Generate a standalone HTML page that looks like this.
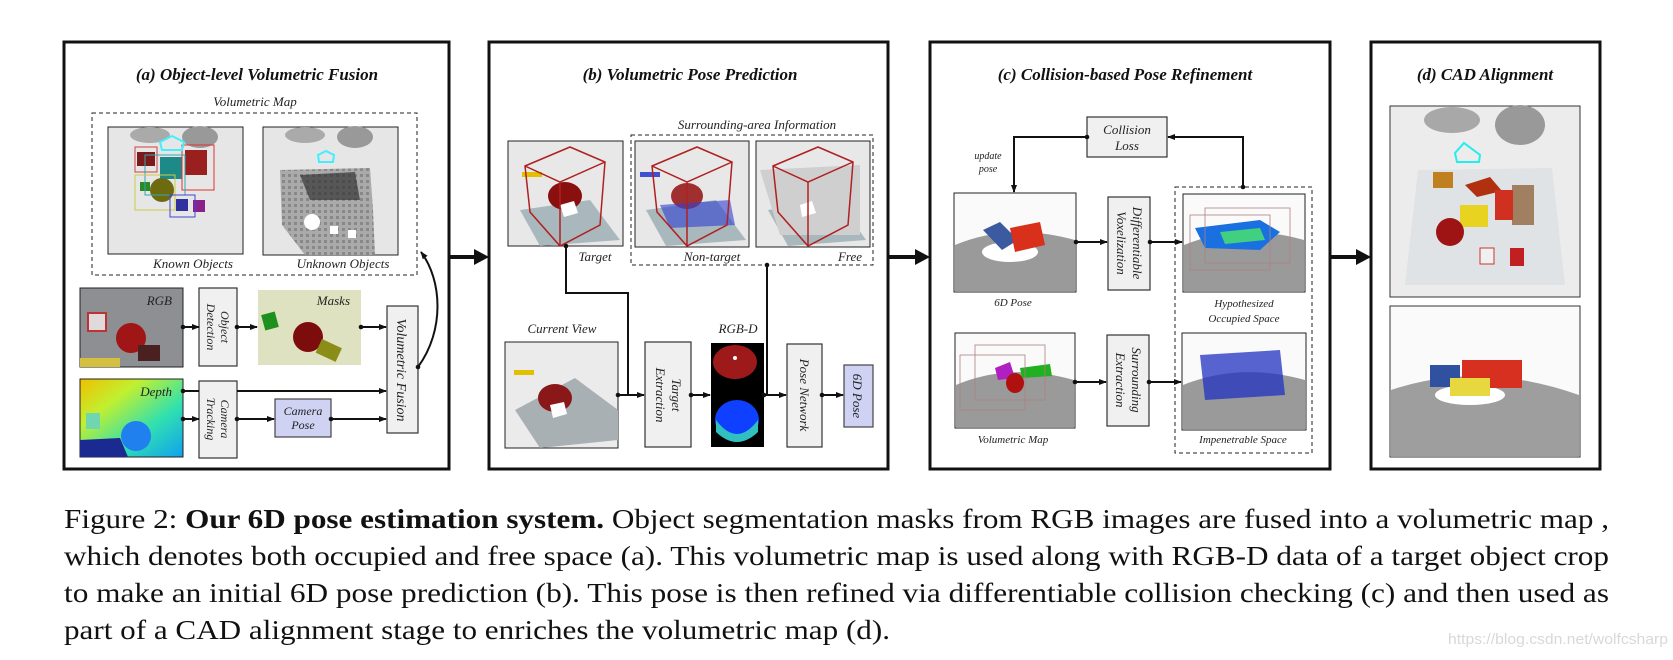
<!DOCTYPE html>
<html><head><meta charset="utf-8"><style>
html,body{margin:0;padding:0;background:#fff;}
svg{display:block;}
.t{font-family:"Liberation Serif",serif;font-style:italic;fill:#222;}
.h{font-family:"Liberation Serif",serif;font-style:italic;font-weight:bold;font-size:17px;fill:#111;}
.bx{fill:#f0f0f0;stroke:#333;stroke-width:1.2;}
.ln{stroke:#111;stroke-width:2;fill:none;}
.cap{font-family:"Liberation Serif",serif;font-size:27px;fill:#111;}
</style></head><body>
<svg width="1673" height="660" viewBox="0 0 1673 660" xmlns="http://www.w3.org/2000/svg">
<defs>
<marker id="a" markerWidth="8" markerHeight="8" refX="7" refY="4" orient="auto" markerUnits="userSpaceOnUse"><path d="M0,1 L8,4 L0,7 z" fill="#111"/></marker>
<marker id="d" markerWidth="6" markerHeight="6" refX="3" refY="3" markerUnits="userSpaceOnUse"><circle cx="3" cy="3" r="2.3" fill="#111"/></marker>
<pattern id="grey" width="6" height="6" patternUnits="userSpaceOnUse"><rect width="6" height="6" fill="#aaa"/><rect width="3" height="3" fill="#888"/></pattern>
</defs>

<!-- panel borders -->
<g fill="none" stroke="#111" stroke-width="3">
<rect x="64" y="42" width="385" height="427"/>
<rect x="489" y="42" width="399" height="427"/>
<rect x="930" y="42" width="400" height="427"/>
<rect x="1371" y="42" width="229" height="427"/>
</g>
<!-- inter-panel arrows -->
<g fill="#111">
<rect x="449" y="255" width="26" height="4"/><path d="M474,249 L489,257 L474,265z"/>
<rect x="888" y="255" width="28" height="4"/><path d="M915,249 L930,257 L915,265z"/>
<rect x="1330" y="255" width="27" height="4"/><path d="M1356,249 L1371,257 L1356,265z"/>
</g>

<!-- ========== (a) ========== -->
<text class="h" x="257" y="80" text-anchor="middle">(a) Object-level Volumetric Fusion</text>
<text class="t" x="255" y="106" font-size="13" text-anchor="middle">Volumetric Map</text>
<rect x="92" y="113" width="325" height="162" fill="none" stroke="#222" stroke-dasharray="4,3"/>
<!-- known objects img -->
<rect x="108" y="127" width="135" height="127" fill="#e6e6e6" stroke="#222"/>
<ellipse cx="150" cy="135" rx="20" ry="8" fill="#aaa"/><ellipse cx="200" cy="137" rx="18" ry="11" fill="#999"/>
<rect x="137" y="152" width="18" height="14" fill="#7a1a1a"/><rect x="160" y="157" width="22" height="22" fill="#1e8a88"/>
<rect x="185" y="150" width="22" height="25" fill="#9a1f1f"/><circle cx="162" cy="190" r="12" fill="#6e6a10"/>
<rect x="140" y="182" width="10" height="9" fill="#2a8a2a"/><rect x="176" y="199" width="12" height="12" fill="#3030a0"/><rect x="193" y="200" width="12" height="12" fill="#8a208a"/>
<g fill="none" stroke-width="1"><rect x="135" y="147" width="22" height="25" stroke="#c44"/><rect x="182" y="145" width="32" height="45" stroke="#d33"/><rect x="145" y="155" width="40" height="40" stroke="#3aa"/><rect x="135" y="175" width="40" height="35" stroke="#cc4"/><rect x="170" y="195" width="25" height="22" stroke="#44c"/></g>
<path d="M160,142 l12,-6 l12,6 l-2,8 l-20,0z" fill="none" stroke="#4ef" stroke-width="2"/>
<!-- unknown img -->
<rect x="263" y="127" width="135" height="128" fill="#e6e6e6" stroke="#222"/>
<ellipse cx="305" cy="135" rx="20" ry="8" fill="#aaa"/><ellipse cx="355" cy="137" rx="18" ry="11" fill="#999"/>
<path d="M280,170 L370,168 L373,210 L375,255 L305,255 L282,225z" fill="url(#grey)"/>
<path d="M300,175 L355,172 L360,200 L310,200z" fill="#333" opacity=".7"/>
<circle cx="312" cy="222" r="8" fill="#fff"/><rect x="330" y="226" width="8" height="8" fill="#fff"/><rect x="348" y="230" width="8" height="8" fill="#fff"/>
<path d="M318,155 l8,-4 l8,4 l-1,7 l-14,0z" fill="none" stroke="#4ef" stroke-width="2"/>
<text class="t" x="193" y="268" font-size="13" text-anchor="middle">Known Objects</text>
<text class="t" x="343" y="268" font-size="13" text-anchor="middle">Unknown Objects</text>
<!-- RGB -->
<rect x="80" y="288" width="103" height="79" fill="#8d8f92" stroke="#222"/>
<rect x="88" y="313" width="18" height="18" fill="#e0dada" stroke="#b33" stroke-width="2"/>
<circle cx="131" cy="338" r="15" fill="#a01515"/><rect x="138" y="345" width="22" height="16" fill="#4a2020"/><rect x="80" y="358" width="40" height="9" fill="#d4c040"/>
<text class="t" x="172" y="305" font-size="13" text-anchor="end">RGB</text>
<rect class="bx" x="199" y="288" width="38" height="78"/>
<text class="t" font-size="12" transform="translate(218,327) rotate(90)" text-anchor="middle"><tspan x="0" y="-3">Object</tspan><tspan x="0" y="11">Detection</tspan></text>
<!-- Masks -->
<rect x="258" y="290" width="103" height="75" fill="#dfe2c0"/>
<rect x="263" y="313" width="14" height="16" fill="#1e901e" transform="rotate(-15 270 321)"/>
<circle cx="308" cy="337" r="15" fill="#7d0d0d"/><rect x="318" y="343" width="22" height="15" fill="#8c8c18" transform="rotate(25 329 350)"/>
<text class="t" x="350" y="305" font-size="13" text-anchor="end">Masks</text>
<rect class="bx" x="387" y="306" width="31" height="127"/>
<text class="t" font-size="14" transform="translate(402,370) rotate(90)" text-anchor="middle" y="5">Volumetric Fusion</text>
<!-- Depth -->
<defs><linearGradient id="dg" x1="0" y1="0" x2="1" y2="1"><stop offset="0" stop-color="#f0c000"/><stop offset=".3" stop-color="#c0f030"/><stop offset=".65" stop-color="#30e0b0"/><stop offset="1" stop-color="#10a0f0"/></linearGradient></defs>
<rect x="80" y="379" width="103" height="78" fill="url(#dg)" stroke="#222"/>
<rect x="86" y="413" width="14" height="16" fill="#6fd6b0"/><circle cx="136" cy="436" r="15" fill="#2080ee"/><path d="M80,440 L120,438 L128,457 L80,457z" fill="#1a2a90"/>
<text class="t" x="172" y="396" font-size="13" text-anchor="end">Depth</text>
<rect class="bx" x="199" y="381" width="38" height="77"/>
<text class="t" font-size="12" transform="translate(218,419) rotate(90)" text-anchor="middle"><tspan x="0" y="-3">Camera</tspan><tspan x="0" y="11">Tracking</tspan></text>
<rect x="275" y="399" width="56" height="38" fill="#cfd2f2" stroke="#444" stroke-width="1.2"/>
<text class="t" x="303" y="415" font-size="12" text-anchor="middle">Camera</text><text class="t" x="303" y="429" font-size="12" text-anchor="middle">Pose</text>
<g class="ln" marker-start="url(#d)" marker-end="url(#a)">
<line x1="183" y1="327" x2="199" y2="327"/><line x1="237" y1="327" x2="257" y2="327"/><line x1="361" y1="327" x2="386" y2="327"/>
<line x1="183" y1="419" x2="199" y2="419"/><line x1="237" y1="419" x2="274" y2="419"/><line x1="331" y1="419" x2="386" y2="419"/>
</g>
<line class="ln" x1="183" y1="391" x2="199" y2="391" marker-start="url(#d)"/>
<line class="ln" x1="237" y1="391" x2="386" y2="391" marker-end="url(#a)"/>
<path class="ln" d="M418,367 C445,330 442,280 421,252" marker-start="url(#d)" marker-end="url(#a)"/>

<!-- ========== (b) ========== -->
<text class="h" x="690" y="80" text-anchor="middle">(b) Volumetric Pose Prediction</text>
<text class="t" x="757" y="129" font-size="13" text-anchor="middle">Surrounding-area Information</text>
<rect x="631" y="135" width="242" height="130" fill="none" stroke="#222" stroke-dasharray="4,3"/>
<g stroke="#222">
<rect x="508" y="141" width="115" height="105" fill="#e8e8e8"/>
<rect x="635" y="141" width="114" height="106" fill="#e8e8e8"/>
<rect x="756" y="141" width="114" height="106" fill="#e8e8e8"/>
</g>
<path d="M520,210 L590,200 L620,240 L540,246z" fill="#a8b8bc"/><path d="M646,210 L716,200 L746,240 L666,246z" fill="#a8b8bc"/><path d="M768,210 L838,200 L866,240 L788,246z" fill="#a8b8bc"/>
<ellipse cx="565" cy="196" rx="17" ry="14" fill="#8a1010"/><path d="M560,205 l14,-4 l4,12 l-14,4z" fill="#fff"/>
<ellipse cx="687" cy="196" rx="16" ry="13" fill="#a03030"/><path d="M660,205 L730,200 L735,225 L670,228z" fill="#3040d0" opacity=".6"/><rect x="640" y="172" width="20" height="5" fill="#4050d0"/>
<path d="M760,170 L860,165 L860,235 L780,235z" fill="#cfcfcf"/><path d="M800,205 l12,-4 l4,12 l-14,4z" fill="#fff"/>
<rect x="522" y="172" width="20" height="5" fill="#e0c000"/>
<g fill="none" stroke="#b02020" stroke-width="1.5">
<path d="M525,166 L570,147 L605,162 L600,225 L560,246 L530,212z M525,166 L560,182 L605,162 M560,182 L560,246"/>
<path d="M652,166 L697,147 L732,162 L727,225 L687,246 L657,212z M652,166 L687,182 L732,162 M687,182 L687,246"/>
<path d="M773,166 L818,147 L853,162 L848,225 L808,246 L778,212z M773,166 L808,182 L853,162 M808,182 L808,246"/>
</g>
<text class="t" x="595" y="261" font-size="13" text-anchor="middle">Target</text>
<text class="t" x="712" y="261" font-size="13" text-anchor="middle">Non-target</text>
<text class="t" x="862" y="261" font-size="13" text-anchor="end">Free</text>
<text class="t" x="562" y="333" font-size="13" text-anchor="middle">Current View</text>
<rect x="505" y="342" width="113" height="106" fill="#ebebeb" stroke="#222"/>
<path d="M515,410 L575,378 L618,410 L618,440 L540,448z" fill="#a8b0b4"/>
<ellipse cx="555" cy="398" rx="17" ry="14" fill="#8a1818"/><path d="M550,405 l14,-3 l3,12 l-14,4z" fill="#fff"/><rect x="514" y="370" width="20" height="5" fill="#e0c000"/>
<rect class="bx" x="645" y="342" width="46" height="105"/>
<text class="t" font-size="13" transform="translate(668,395) rotate(90)" text-anchor="middle"><tspan x="0" y="-4">Target</tspan><tspan x="0" y="12">Extraction</tspan></text>
<text class="t" x="738" y="333" font-size="13" text-anchor="middle">RGB-D</text>
<rect x="711" y="343" width="53" height="104" fill="#000"/>
<ellipse cx="735" cy="362" rx="22" ry="17" fill="#9e1a1a"/><circle cx="735" cy="358" r="2" fill="#fff"/>
<ellipse cx="737" cy="420" rx="22" ry="20" fill="#1040ff"/><path d="M716,420 Q737,448 758,420 L758,432 Q737,452 716,432z" fill="#30c0c0"/>
<rect class="bx" x="787" y="344" width="35" height="103"/>
<text class="t" font-size="13" transform="translate(805,395) rotate(90)" text-anchor="middle" y="5">Pose Network</text>
<rect x="844" y="365" width="29" height="62" fill="#cfd2f2" stroke="#444" stroke-width="1.2"/>
<text class="t" font-size="13" transform="translate(858,396) rotate(90)" text-anchor="middle" y="5">6D Pose</text>
<path class="ln" d="M566,246 L566,293 L628,293 L628,395" marker-start="url(#d)"/>
<path class="ln" d="M767,265 L767,395" marker-start="url(#d)"/>
<g class="ln" marker-start="url(#d)" marker-end="url(#a)">
<line x1="618" y1="395" x2="644" y2="395"/><line x1="691" y1="395" x2="710" y2="395"/><line x1="764" y1="395" x2="786" y2="395"/><line x1="822" y1="395" x2="843" y2="395"/>
</g>

<!-- ========== (c) ========== -->
<text class="h" x="1125" y="80" text-anchor="middle">(c) Collision-based Pose Refinement</text>
<rect class="bx" x="1087" y="117" width="80" height="40"/>
<text class="t" x="1127" y="134" font-size="13" text-anchor="middle">Collision</text><text class="t" x="1127" y="150" font-size="13" text-anchor="middle">Loss</text>
<path class="ln" d="M1087,137 L1014,137 L1014,192" marker-start="url(#d)" marker-end="url(#a)"/>
<path class="ln" d="M1243,187 L1243,137 L1168,137" marker-start="url(#d)" marker-end="url(#a)"/>
<text class="t" x="988" y="159" font-size="10" text-anchor="middle">update</text><text class="t" x="988" y="172" font-size="10" text-anchor="middle">pose</text>
<rect x="1175" y="187" width="137" height="266" fill="none" stroke="#222" stroke-dasharray="4,3"/>
<g stroke="#222">
<rect x="954" y="193" width="122" height="99" fill="#fafafa"/>
<rect x="1183" y="194" width="122" height="98" fill="#fafafa"/>
<rect x="955" y="333" width="120" height="95" fill="#fafafa"/>
<rect x="1182" y="333" width="124" height="97" fill="#fafafa"/>
</g>
<g fill="#9a9a9a">
<path d="M955,245 Q1010,222 1075,240 L1075,291 L955,291z"/><path d="M1184,245 Q1240,222 1304,240 L1304,291 L1184,291z"/>
<path d="M956,385 Q1010,362 1074,380 L1074,427 L956,427z"/><path d="M1183,385 Q1240,362 1305,380 L1305,429 L1183,429z"/>
</g>
<ellipse cx="1010" cy="252" rx="28" ry="10" fill="#fff"/>
<path d="M983,230 L1000,222 L1018,240 L1002,250z" fill="#3b5aa0"/><path d="M1010,228 L1040,222 L1045,245 L1015,252z" fill="#d8301a"/>
<path d="M1195,228 L1260,220 L1280,232 L1260,250 L1205,248z" fill="#1a70e0"/><path d="M1220,232 L1260,228 L1265,240 L1225,244z" fill="#40d080"/>
<path d="M995,368 L1010,362 L1015,378 L998,380z" fill="#b020c0"/><ellipse cx="1015" cy="383" rx="9" ry="10" fill="#b01010"/><path d="M1020,368 L1050,364 L1052,376 L1022,378z" fill="#20b020"/>
<path d="M1200,355 L1280,350 L1285,395 L1205,400z" fill="#2030c0" opacity=".75"/>
<g fill="none" stroke="#b08080" stroke-width=".8"><rect x="1190" y="215" width="80" height="55"/><rect x="1205" y="208" width="85" height="55"/><rect x="960" y="355" width="65" height="55"/><rect x="975" y="345" width="70" height="55"/></g>
<text class="t" x="1013" y="306" font-size="11" text-anchor="middle">6D Pose</text>
<text class="t" x="1244" y="307" font-size="11" text-anchor="middle">Hypothesized</text><text class="t" x="1244" y="322" font-size="11" text-anchor="middle">Occupied Space</text>
<text class="t" x="1013" y="443" font-size="11" text-anchor="middle">Volumetric Map</text>
<text class="t" x="1243" y="443" font-size="11" text-anchor="middle">Impenetrable Space</text>
<rect class="bx" x="1108" y="197" width="42" height="93"/>
<text class="t" font-size="13" transform="translate(1129,243) rotate(90)" text-anchor="middle"><tspan x="0" y="-4">Differentiable</tspan><tspan x="0" y="12">Voxelization</tspan></text>
<rect class="bx" x="1107" y="335" width="42" height="91"/>
<text class="t" font-size="13" transform="translate(1128,380) rotate(90)" text-anchor="middle"><tspan x="0" y="-4">Surrounding</tspan><tspan x="0" y="12">Extraction</tspan></text>
<g class="ln" marker-start="url(#d)" marker-end="url(#a)">
<line x1="1076" y1="242" x2="1107" y2="242"/><line x1="1150" y1="242" x2="1182" y2="242"/>
<line x1="1075" y1="382" x2="1106" y2="382"/><line x1="1149" y1="382" x2="1181" y2="382"/>
</g>

<!-- ========== (d) ========== -->
<text class="h" x="1485" y="80" text-anchor="middle">(d) CAD Alignment</text>
<rect x="1390" y="106" width="190" height="191" fill="#ececec" stroke="#333"/>
<ellipse cx="1452" cy="120" rx="28" ry="13" fill="#a8a8a8"/><ellipse cx="1520" cy="125" rx="25" ry="20" fill="#999"/>
<path d="M1418,170 L1552,168 L1565,285 L1405,285z" fill="#dfe3e6"/>
<path d="M1455,153 l9,-10 l16,12 l-1,7 l-22,0z" fill="none" stroke="#2ee" stroke-width="2"/>
<rect x="1433" y="172" width="20" height="16" fill="#c08020"/><path d="M1465,185 l25,-8 l12,14 l-25,6z" fill="#b03010"/>
<rect x="1460" y="205" width="28" height="22" fill="#e8d420"/><rect x="1512" y="185" width="22" height="40" fill="#a08060"/><rect x="1495" y="190" width="18" height="30" fill="#d03020"/>
<circle cx="1450" cy="232" r="14" fill="#9e1414"/><rect x="1480" y="248" width="14" height="16" fill="#f0f0f0" stroke="#c33"/><rect x="1510" y="248" width="14" height="18" fill="#c02020"/>
<rect x="1390" y="306" width="190" height="151" fill="#fafafa" stroke="#333"/>
<path d="M1391,390 Q1480,360 1579,395 L1579,456 L1391,456z" fill="#9e9e9e"/>
<ellipse cx="1470" cy="395" rx="35" ry="10" fill="#fff"/>
<rect x="1430" y="365" width="30" height="22" fill="#3050a0"/><rect x="1462" y="360" width="60" height="28" fill="#d83020"/><rect x="1450" y="378" width="40" height="18" fill="#e8d840"/>

<!-- caption -->
<text class="cap" x="64" y="528" textLength="1545" lengthAdjust="spacingAndGlyphs">Figure 2: <tspan font-weight="bold">Our 6D pose estimation system.</tspan> Object segmentation masks from RGB images are fused into a volumetric map ,</text>
<text class="cap" x="64" y="565" textLength="1545" lengthAdjust="spacingAndGlyphs">which denotes both occupied and free space (a). This volumetric map is used along with RGB-D data of a target object crop</text>
<text class="cap" x="64" y="602" textLength="1545" lengthAdjust="spacingAndGlyphs">to make an initial 6D pose prediction (b). This pose is then refined via differentiable collision checking (c) and then used as</text>
<text class="cap" x="64" y="639" textLength="826" lengthAdjust="spacingAndGlyphs">part of a CAD alignment stage to enriches the volumetric map (d).</text>
<text x="1448" y="644" font-family="Liberation Sans, sans-serif" font-size="15" fill="#d8d8d8" textLength="220" lengthAdjust="spacingAndGlyphs">https://blog.csdn.net/wolfcsharp</text>
</svg>
</body></html>
